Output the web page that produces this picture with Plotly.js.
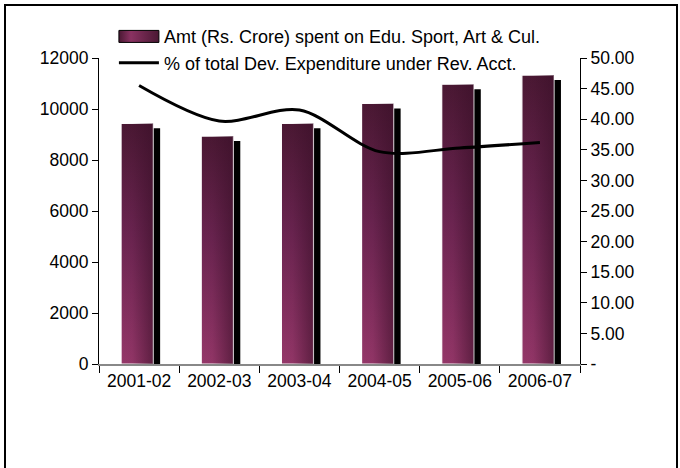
<!DOCTYPE html>
<html>
<head>
<meta charset="utf-8">
<script src="https://cdn.plot.ly/plotly-3.0.1.min.js"></script>
<style>
  html, body { margin: 0; padding: 0; background: #fff; }
  #chart { position: absolute; left: 0; top: 0; width: 680px; height: 468px; }
  #frame { position: absolute; left: 4px; top: 4px; width: 670px; height: 500px;
           border: 2px solid #000; border-bottom: none; pointer-events: none; }
</style>
</head>
<body>
<div id="chart"></div>
<div id="frame"></div>
<script>
const categories = ['2001-02', '2002-03', '2003-04', '2004-05', '2005-06', '2006-07'];
const amount = [9440, 8940, 9440, 10220, 10970, 11330];
const percent = [45.5, 39.7, 41.5, 34.7, 35.3, 36.2];
const leftTickVals = [0, 2000, 4000, 6000, 8000, 10000, 12000];
const leftTickText = ['0', '2000', '4000', '6000', '8000', '10000', '12000'];
const rightTickVals = [0, 5, 10, 15, 20, 25, 30, 35, 40, 45, 50];
const rightTickText = ['-', '5.00', '10.00', '15.00', '20.00', '25.00', '30.00', '35.00', '40.00', '45.00', '50.00'];
const barName = 'Amt (Rs. Crore) spent on Edu. Sport, Art & Cul.';
const lineName = '% of total Dev. Expenditure under Rev. Acct.';

const FONT = 'Liberation Sans, Arial, sans-serif';

const data = [
  { type: 'bar', x: categories, y: amount, width: 0.4, offset: -0.1375,
    marker: { color: '#000000', line: { width: 0 } }, showlegend: false, hoverinfo: 'skip' },
  { type: 'bar', x: categories, y: amount, width: 0.4, offset: -0.225, name: barName,
    marker: { color: '#6a2550', line: { color: '#ffffff', width: 1.2 } } },
  { type: 'scatter', mode: 'lines', x: categories, y: percent, yaxis: 'y2', name: lineName,
    line: { color: '#000000', width: 3, shape: 'spline', smoothing: 0.9 } }
];

const layout = {
  width: 680, height: 468,
  margin: { l: 99, r: 100, t: 58, b: 104, pad: 0 },
  paper_bgcolor: '#ffffff', plot_bgcolor: '#ffffff',
  font: { family: FONT, size: 16, color: '#000' },
  barmode: 'overlay',
  showlegend: true,
  legend: { x: 0.031, xanchor: 'left', y: 1.13, yanchor: 'top', bgcolor: 'rgba(0,0,0,0)',
            font: { family: FONT, size: 18, color: '#000' }, tracegroupgap: 0, itemwidth: 40 },
  xaxis: { type: 'category', range: [-0.5, 5.5], showgrid: false, zeroline: false,
           showline: true, linecolor: '#888888', linewidth: 1.5,
           ticks: 'outside', tickson: 'boundaries', ticklen: 7, tickcolor: '#000', tickwidth: 1,
           tickfont: { family: FONT, size: 17.5, color: '#000' } },
  yaxis: { range: [0, 12000], tickvals: leftTickVals, ticktext: leftTickText, showgrid: false, zeroline: false,
           showline: true, linecolor: '#000', linewidth: 1,
           ticks: 'outside', ticklen: 6, tickcolor: '#000',
           tickfont: { family: FONT, size: 17.5, color: '#000' } },
  yaxis2: { range: [0, 50], overlaying: 'y', side: 'right', anchor: 'x',
            tickvals: rightTickVals, ticktext: rightTickText, showgrid: false, zeroline: false,
            showline: true, linecolor: '#000', linewidth: 1,
            ticks: 'outside', ticklen: 6, tickcolor: '#000',
            tickfont: { family: FONT, size: 17.5, color: '#000' } },
  yaxis3: { range: [0, 50], overlaying: 'y', side: 'right', anchor: 'x',
            tickvals: rightTickVals, showticklabels: false, showgrid: false, zeroline: false,
            showline: false, ticks: 'inside', ticklen: 6, tickcolor: '#000' }
};

const gd = document.getElementById('chart');
Plotly.newPlot(gd, data, layout, { staticPlot: true, displayModeBar: false }).then(function () {
  const NS = 'http://www.w3.org/2000/svg';
  const svg = gd.querySelector('.main-svg');
  let defs = svg.querySelector('defs');
  if (!defs) { defs = document.createElementNS(NS, 'defs'); svg.insertBefore(defs, svg.firstChild); }
  function grad(id, x1, y1, x2, y2, stops) {
    const g = document.createElementNS(NS, 'linearGradient');
    g.setAttribute('id', id);
    g.setAttribute('x1', x1); g.setAttribute('y1', y1);
    g.setAttribute('x2', x2); g.setAttribute('y2', y2);
    stops.forEach(function (s) {
      const st = document.createElementNS(NS, 'stop');
      st.setAttribute('offset', s[0]);
      st.setAttribute('stop-color', s[1]);
      st.setAttribute('stop-opacity', s[2]);
      g.appendChild(st);
    });
    defs.appendChild(g);
  }
  grad('gv', 0, 0, 0, 1, [[0, '#4a1833', 1], [0.45, '#6a2450', 1], [1, '#953769', 1]]);
  grad('gh', 0, 0, 1, 0, [[0, '#3a0f28', 0], [0.35, '#3a0f28', 0.05], [1, '#3a0f28', 0.6]]);
  grad('gl', 0, 0, 1, 0, [[0, '#4a1833', 1], [0.3, '#8a3262', 1], [1, '#4a1833', 1]]);

  const traces = gd.querySelectorAll('.barlayer .trace');
  if (traces.length >= 2) {
    traces[0].querySelectorAll('path').forEach(function (p) { p.setAttribute('transform', 'translate(0,5)'); });
    traces[1].querySelectorAll('.point path').forEach(function (p) {
      p.style.fill = 'url(#gv)';
      const c = p.cloneNode();
      c.style.fill = 'url(#gh)';
      c.style.stroke = 'none';
      p.parentNode.insertBefore(c, p.nextSibling);
    });
  }
  // widen the bar legend symbol to match the line symbol span
  const items = gd.querySelectorAll('.legend .traces');
  let lineRect = null, barPath = null;
  items.forEach(function (it) {
    const ln = it.querySelector('path.js-line');
    if (ln) { lineRect = ln.getBoundingClientRect(); }
    else {
      const ps = it.querySelectorAll('.legendpoints path');
      if (ps.length) barPath = ps[0];
    }
  });
  if (barPath && lineRect) {
    const br = barPath.getBoundingClientRect();
    const cx = br.left + br.width / 2;
    const l = lineRect.left - cx, r = lineRect.right - cx;
    barPath.setAttribute('d', 'M' + r + ',6H' + l + 'V-6H' + r + 'Z');
    barPath.style.fill = 'url(#gl)';
    barPath.style.stroke = '#000';
    barPath.style.strokeWidth = '1px';
  }
});
</script>
</body>
</html>
